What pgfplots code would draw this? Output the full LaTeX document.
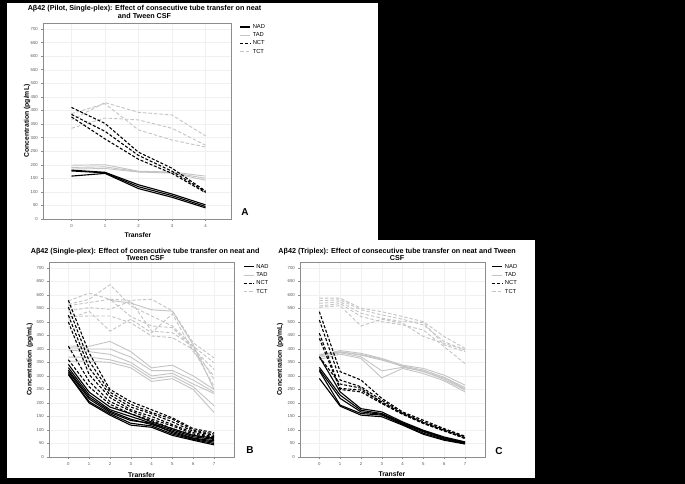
\documentclass[border=0pt]{standalone}
\usepackage{fontspec}
\setmainfont{Liberation Sans}
\usepackage{pgfplots}
\pgfplotsset{compat=1.18}

\definecolor{lgray}{gray}{0.77}
\definecolor{fgray}{gray}{0.55}

\pgfplotsset{
  spss/.style={
    scale only axis,
    ymin=0, ymax=722,
    ytick={0,50,...,700},
    tick pos=left,
    axis line style={fgray, line width=0.7pt},
    tick align=outside, major tick length=1.6pt,
    tick style={fgray, line width=0.4pt},
    grid=major, major grid style={gray!12, line width=0.3pt},
    tick label style={font=\fontsize{4.3}{4.8}\selectfont, text=black!65},
    /pgf/number format/assume math mode=true,
    xticklabel style={yshift=-0.5pt},
    xlabel={Transfer}, ylabel={Concentration (pg/mL)},
    label style={font=\bfseries\fontsize{6.8}{7}\selectfont, anchor=center},
    legend style={draw=none, fill=none, anchor=north west, inner sep=0pt,
      font=\fontsize{5.8}{6}\selectfont, row sep=-1.2pt, cells={anchor=west}},
    legend image code/.code={\draw[##1] (0pt,0pt) -- (10pt,0pt);},
  },
  nad/.style={black, line width=1.1pt},
  tad/.style={lgray, line width=0.9pt},
  nct/.style={black, line width=1.1pt, dash pattern=on 3pt off 1.8pt},
  tct/.style={lgray, line width=0.9pt, dash pattern=on 3.5pt off 2pt},
}

\begin{document}
\begin{tikzpicture}
\fill[black] (0pt,0pt) rectangle (685pt,484pt);
\fill[white] (7pt,244pt) rectangle (378pt,481pt);
\fill[white] (7pt,6pt) rectangle (535pt,244pt);

% ---------- A: pilot, single-plex ----------
\begin{axis}[spss, at={(43pt,265pt)}, anchor=south west, width=188pt, height=196pt,
  xmin=-0.85, xmax=4.76, xtick={0,...,4},
  title={Aβ42 (Pilot, Single-plex): Effect of consecutive tube transfer on neat\\and Tween CSF},
  title style={font=\bfseries\fontsize{7.2}{8}\selectfont, align=center,
    at={(0.54,1)}, anchor=south, inner sep=0pt, yshift=-1.8pt},
  xlabel style={at={(axis description cs:0.505,-0.082)}},
  ylabel style={at={(axis description cs:-0.085,0.5)}},
  legend style={at={(1.045,1.005)}}]
\addlegendimage{nad}\addlegendentry{NAD}
\addlegendimage{tad}\addlegendentry{TAD}
\addlegendimage{nct}\addlegendentry{NCT}
\addlegendimage{tct}\addlegendentry{TCT}
% TCT
\addplot[tct,forget plot] coordinates {(0,365)(1,429)(2,393)(3,383)(4,306)};
\addplot[tct,forget plot] coordinates {(0,388)(1,425)(2,328)(3,291)(4,265)};
\addplot[tct,forget plot] coordinates {(0,334)(1,372)(2,365)(3,334)(4,272)};
% TAD
\addplot[tad,forget plot] coordinates {(0,198)(1,200)(2,176)(3,173)(4,158)};
\addplot[tad,forget plot] coordinates {(0,190)(1,192)(2,174)(3,171)(4,150)};
\addplot[tad,forget plot] coordinates {(0,184)(1,186)(2,173)(3,169)(4,143)};
% NCT
\addplot[nct,forget plot] coordinates {(0,411)(1,352)(2,246)(3,187)(4,103)};
\addplot[nct,forget plot] coordinates {(0,385)(1,323)(2,234)(3,176)(4,100)};
\addplot[nct,forget plot] coordinates {(0,376)(1,295)(2,220)(3,168)(4,97)};
% NAD
\addplot[nad,forget plot] coordinates {(0,180)(1,172)(2,126)(3,92)(4,52)};
\addplot[nad,forget plot] coordinates {(0,177)(1,170)(2,119)(3,86)(4,46)};
\addplot[nad,forget plot] coordinates {(0,158)(1,168)(2,112)(3,80)(4,41)};
\end{axis}

% ---------- B: single-plex ----------
\begin{axis}[spss, at={(49pt,27pt)}, anchor=south west, width=185pt, height=195pt,
  xmin=-0.93, xmax=7.96, xtick={0,...,7},
  title={Aβ42 (Single-plex): Effect of consecutive tube transfer on neat and\\Tween CSF},
  title style={font=\bfseries\fontsize{7.2}{6.3}\selectfont, align=center,
    at={(0.52,1)}, anchor=south, inner sep=0pt, yshift=-5pt},
  xlabel style={at={(axis description cs:0.5,-0.092)}},
  ylabel style={at={(axis description cs:-0.103,0.5)}},
  legend style={at={(1.049,1.0)}}]
\addlegendimage{nad}\addlegendentry{NAD}
\addlegendimage{tad}\addlegendentry{TAD}
\addlegendimage{nct}\addlegendentry{NCT}
\addlegendimage{tct}\addlegendentry{TCT}
% TCT
\addplot[tct,forget plot] coordinates {(0,578)(1,607)(2,584)(3,580)(4,584)(5,541)(6,423)(7,367)};
\addplot[tct,forget plot] coordinates {(0,565)(1,584)(2,638)(3,560)(4,522)(5,485)(6,410)(7,349)};
\addplot[tct,forget plot] coordinates {(0,560)(1,572)(2,584)(3,520)(4,485)(5,479)(6,400)(7,324)};
\addplot[tct,forget plot] coordinates {(0,541)(1,553)(2,547)(3,578)(4,466)(5,460)(6,410)(7,287)};
\addplot[tct,forget plot] coordinates {(0,520)(1,522)(2,522)(3,497)(4,448)(5,442)(6,398)(7,262)};
\addplot[tct,forget plot] coordinates {(0,510)(1,540)(2,466)(3,510)(4,460)(5,530)(6,390)(7,300)};
% TAD
\addplot[tad,forget plot] coordinates {(2,580)(3,570)(4,545)(5,540)(6,415)(7,250)};
\addplot[tad,forget plot] coordinates {(0,411)(1,410)(2,428)(3,390)(4,330)(5,340)(6,300)(7,250)};
\addplot[tad,forget plot] coordinates {(0,405)(1,400)(2,400)(3,370)(4,320)(5,320)(6,285)(7,240)};
\addplot[tad,forget plot] coordinates {(0,396)(1,390)(2,380)(3,350)(4,300)(5,310)(6,270)(7,235)};
\addplot[tad,forget plot] coordinates {(0,370)(1,370)(2,360)(3,340)(4,290)(5,300)(6,260)(7,190)};
\addplot[tad,forget plot] coordinates {(0,355)(1,355)(2,350)(3,330)(4,280)(5,290)(6,250)(7,165)};
% NCT
\addplot[nct,forget plot] coordinates {(0,580)(1,385)(2,250)(3,205)(4,175)(5,145)(6,105)(7,90)};
\addplot[nct,forget plot] coordinates {(0,555)(1,355)(2,240)(3,195)(4,165)(5,140)(6,100)(7,85)};
\addplot[nct,forget plot] coordinates {(0,525)(1,330)(2,230)(3,185)(4,160)(5,130)(6,95)(7,80)};
\addplot[nct,forget plot] coordinates {(0,500)(1,305)(2,220)(3,175)(4,150)(5,120)(6,90)(7,75)};
\addplot[nct,forget plot] coordinates {(0,410)(1,280)(2,205)(3,170)(4,140)(5,115)(6,85)(7,72)};
\addplot[nct,forget plot] coordinates {(0,360)(1,260)(2,195)(3,160)(4,135)(5,105)(6,80)(7,68)};
% NAD
\addplot[nad,forget plot] coordinates {(0,343)(1,240)(2,185)(3,160)(4,130)(5,105)(6,80)(7,70)};
\addplot[nad,forget plot] coordinates {(0,331)(1,230)(2,175)(3,150)(4,125)(5,100)(6,75)(7,65)};
\addplot[nad,forget plot] coordinates {(0,322)(1,222)(2,170)(3,140)(4,120)(5,95)(6,70)(7,60)};
\addplot[nad,forget plot] coordinates {(0,316)(1,215)(2,165)(3,135)(4,125)(5,90)(6,68)(7,55)};
\addplot[nad,forget plot] coordinates {(0,309)(1,205)(2,160)(3,125)(4,115)(5,85)(6,65)(7,50)};
\addplot[nad,forget plot] coordinates {(0,305)(1,200)(2,155)(3,118)(4,110)(5,80)(6,62)(7,45)};
\end{axis}

% ---------- C: triplex ----------
\begin{axis}[spss, at={(300pt,27pt)}, anchor=south west, width=185pt, height=195pt,
  xmin=-0.93, xmax=7.96, xtick={0,...,7},
  title={Aβ42 (Triplex): Effect of consecutive tube transfer on neat and Tween\\CSF},
  title style={font=\bfseries\fontsize{7.2}{6.3}\selectfont, align=center,
    at={(0.525,1)}, anchor=south, inner sep=0pt, yshift=-5pt},
  xlabel style={at={(axis description cs:0.497,-0.09)}},
  ylabel style={at={(axis description cs:-0.108,0.5)}},
  legend style={at={(1.036,1.0)}}]
\addlegendimage{nad}\addlegendentry{NAD}
\addlegendimage{tad}\addlegendentry{TAD}
\addlegendimage{nct}\addlegendentry{NCT}
\addlegendimage{tct}\addlegendentry{TCT}
% TCT
\addplot[tct,forget plot] coordinates {(0,588)(1,588)(2,551)(3,538)(4,520)(5,501)(6,446)(7,402)};
\addplot[tct,forget plot] coordinates {(0,579)(1,582)(2,545)(3,526)(4,510)(5,489)(6,427)(7,396)};
\addplot[tct,forget plot] coordinates {(0,569)(1,575)(2,532)(3,514)(4,501)(5,498)(6,415)(7,390)};
\addplot[tct,forget plot] coordinates {(0,559)(1,568)(2,520)(3,501)(4,489)(5,470)(6,408)(7,346)};
\addplot[tct,forget plot] coordinates {(0,554)(1,560)(2,485)(3,510)(4,495)(5,446)(6,420)(7,398)};
% TAD
\addplot[tad,forget plot] coordinates {(0,377)(1,394)(2,384)(3,365)(4,340)(5,328)(6,303)(7,266)};
\addplot[tad,forget plot] coordinates {(0,374)(1,390)(2,377)(3,359)(4,337)(5,322)(6,295)(7,257)};
\addplot[tad,forget plot] coordinates {(0,369)(1,386)(2,371)(3,319)(4,332)(5,318)(6,287)(7,248)};
\addplot[tad,forget plot] coordinates {(0,361)(1,381)(2,365)(3,293)(4,328)(5,309)(6,282)(7,241)};
\addplot[tad,forget plot] coordinates {(0,380)(1,388)(2,380)(3,362)(4,335)(5,316)(6,292)(7,252)};
% NCT
\addplot[nct,forget plot] coordinates {(0,538)(1,316)(2,285)(3,217)(4,167)(5,136)(6,105)(7,77)};
\addplot[nct,forget plot] coordinates {(0,507)(1,285)(2,260)(3,210)(4,164)(5,130)(6,102)(7,74)};
\addplot[nct,forget plot] coordinates {(0,458)(1,254)(2,248)(3,204)(4,161)(5,127)(6,99)(7,72)};
\addplot[nct,forget plot] coordinates {(0,439)(1,250)(2,241)(3,198)(4,158)(5,124)(6,96)(7,70)};
\addplot[nct,forget plot] coordinates {(0,371)(1,270)(2,255)(3,200)(4,160)(5,125)(6,98)(7,68)};
% NAD
\addplot[nad,forget plot] coordinates {(0,371)(1,241)(2,179)(3,167)(4,130)(5,99)(6,74)(7,56)};
\addplot[nad,forget plot] coordinates {(0,332)(1,229)(2,173)(3,161)(4,127)(5,96)(6,71)(7,54)};
\addplot[nad,forget plot] coordinates {(0,324)(1,217)(2,167)(3,158)(4,124)(5,93)(6,68)(7,52)};
\addplot[nad,forget plot] coordinates {(0,319)(1,192)(2,161)(3,155)(4,121)(5,88)(6,65)(7,50)};
\addplot[nad,forget plot] coordinates {(0,291)(1,188)(2,155)(3,149)(4,118)(5,84)(6,62)(7,48)};
\end{axis}

\node[font=\bfseries\fontsize{10}{10}\selectfont] at (245pt,272pt) {A};
\node[font=\bfseries\fontsize{10}{10}\selectfont] at (250pt,34pt) {B};
\node[font=\bfseries\fontsize{10}{10}\selectfont] at (499pt,33pt) {C};

\pgfresetboundingbox
\useasboundingbox (0pt,0pt) rectangle (685pt,484pt);
\end{tikzpicture}
\end{document}
